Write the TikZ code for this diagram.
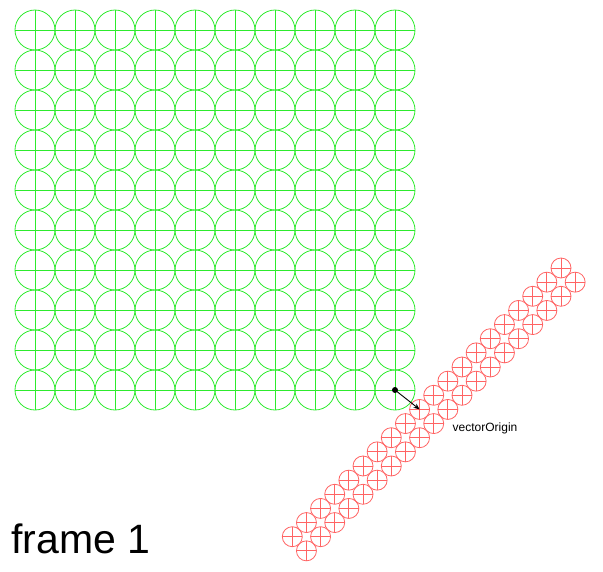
\documentclass[tikz,border=0pt]{standalone}
\usepackage{fontspec}
\setmainfont{Liberation Sans}
\usetikzlibrary{arrows.meta}

\definecolor{gridgreen}{RGB}{45,235,45}
\definecolor{cellred}{RGB}{255,100,100}

\begin{document}
\begin{tikzpicture}[x=1pt, y=-1pt, line width=0.8pt,
  greencell/.style={draw=gridgreen},
  redcell/.style={draw=cellred},
  dot/.style={circle, fill=black, inner sep=0pt, minimum size=6pt}]

\useasboundingbox (0,0) rectangle (603,571);

% --- Green cells: 10 x 10 grid ---
\foreach \i in {0,...,9} {
  \foreach \j in {0,...,9} {
    \pgfmathsetmacro\cx{35+40*\i}
    \pgfmathsetmacro\cy{30+40*\j}
    \draw[greencell] (\cx,\cy) circle[radius=20pt];
    \draw[greencell] (\cx-20,\cy) -- (\cx+20,\cy);
    \draw[greencell] (\cx,\cy-20) -- (\cx,\cy+20);
  }
}

% --- Red cells: rotated 20 x 2 strip ---
\foreach \i in {0,...,19} {
  \foreach \k in {0,1} {
    \pgfmathsetmacro\cx{292.3+14.142*(\i+\k)}
    \pgfmathsetmacro\cy{536.7-14.142*(\i-\k)}
    \draw[redcell] (\cx,\cy) circle[radius=10pt];
    \draw[redcell] (\cx-10,\cy) -- (\cx+10,\cy);
    \draw[redcell] (\cx,\cy-10) -- (\cx,\cy+10);
  }
}

% --- Vector from grid origin ---
\node[dot] (origin) at (395,390) {};
\coordinate (target) at (419.6,409.4);
\draw[-{Stealth[length=6pt, width=5pt]}, line width=0.9pt] (origin.center) -- (target);
\node[anchor=west, font=\fontsize{12}{14}\selectfont] (vlabel) at (449,428) {vectorOrigin};

% Frame label
\node[anchor=base west, inner sep=0pt, font=\fontsize{41}{48}\selectfont] (frame) at (11,553) {frame 1};

\end{tikzpicture}
\end{document}
